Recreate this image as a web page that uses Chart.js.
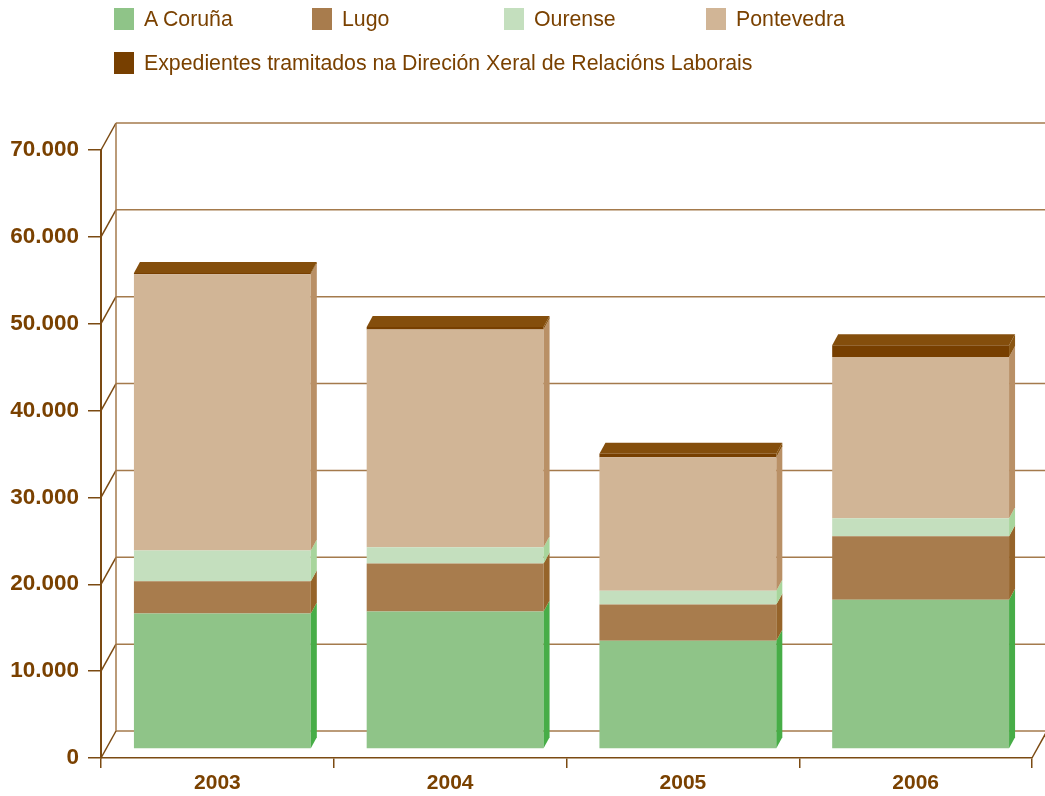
<!DOCTYPE html>
<html>
<head>
<meta charset="utf-8">
<style>
  body { margin: 0; background: #fff; }
  #wrap { position: relative; width: 1045px; height: 796px; }
  #chart { position: absolute; left: 0; top: 0; }
  #legend {
    position: absolute; left: 114px; top: 8px;
    display: grid; grid-template-columns: 198px 192px 202px auto;
    row-gap: 22px;
    font-family: "Liberation Sans", Arial, sans-serif; font-size: 21.3px; color: #7a4100;
  }
  #legend .item { display: flex; align-items: center; height: 22px; white-space: nowrap; }
  #legend .item.wide { grid-column: 1 / -1; }
  #legend .box { width: 20px; height: 22px; margin-right: 10px; }
</style>
</head>
<body>
<div id="wrap">
  <canvas id="chart" width="1045" height="796"></canvas>
  <div id="legend"></div>
</div>

<script src="https://cdn.jsdelivr.net/npm/chart.js"></script>
<script>
// datos
const years = ['2003', '2004', '2005', '2006'];
const aCoruna = [15600, 15840, 12460, 17190];
const lugo = [3700, 5530, 4185, 7300];
const ourense = [3540, 1845, 1580, 2080];
const pontevedra = [31830, 25075, 15375, 18570];
const expedientes = [120, 300, 380, 1350];

const yTicks = { min: 0, max: 70000, step: 10000 };

// colores
const textColor = '#7a4100';
const axisColor = '#7b4a12';
const gridColor = '#a47a4c';

// profundidade 3D
const WALL_DX = 15, WALL_DY = 27;  // parede do fondo
const BAR_DX = 5, BAR_DY = 9;      // cara frontal das barras
const DEPTH_DX = 6, DEPTH_DY = 11; // fondo das barras

function line(ctx, x1, y1, x2, y2, color, w) {
  ctx.beginPath();
  ctx.moveTo(x1, y1);
  ctx.lineTo(x2, y2);
  ctx.strokeStyle = color;
  ctx.lineWidth = w;
  ctx.stroke();
}

function poly(ctx, pts, color) {
  ctx.beginPath();
  ctx.moveTo(pts[0][0], pts[0][1]);
  for (let i = 1; i < pts.length; i++) ctx.lineTo(pts[i][0], pts[i][1]);
  ctx.closePath();
  ctx.fillStyle = color;
  ctx.fill();
}

const box3d = {
  id: 'box3d',
  beforeDatasetsDraw(chart) {
    const { ctx, chartArea: a, scales: { y } } = chart;
    ctx.save();
    y.ticks.forEach(t => {
      const py = y.getPixelForValue(t.value);
      line(ctx, a.left + WALL_DX, py - WALL_DY, a.right + WALL_DX, py - WALL_DY, gridColor, 1.5);
      line(ctx, a.left, py, a.left + WALL_DX, py - WALL_DY, axisColor, 1.5);
    });
    line(ctx, a.left + WALL_DX, a.top - WALL_DY, a.left + WALL_DX, a.bottom - WALL_DY, gridColor, 1.5);
    line(ctx, a.right, a.bottom, a.right + WALL_DX, a.bottom - WALL_DY, axisColor, 1.5);
    ctx.restore();
    // as barras vanse debuxar desprazadas cara ao fondo
    ctx.save();
    ctx.translate(BAR_DX, -BAR_DY);
  },
  afterDatasetsDraw(chart) {
    const ctx = chart.ctx;
    const last = chart.data.datasets.length - 1;
    chart.data.datasets.forEach((ds, i) => {
      const meta = chart.getDatasetMeta(i);
      meta.data.forEach(bar => {
        const { x, y, base, width } = bar.getProps(['x', 'y', 'base', 'width'], true);
        const l = x - width / 2, r = x + width / 2;
        poly(ctx, [[r, y], [r, base], [r + DEPTH_DX, base - DEPTH_DY], [r + DEPTH_DX, y - DEPTH_DY]], ds.sideColor);
        if (i === last) {
          poly(ctx, [[l, y], [r, y], [r + DEPTH_DX, y - DEPTH_DY], [l + DEPTH_DX, y - DEPTH_DY]], ds.topColor);
        }
      });
    });
    ctx.restore();
  }
};

const datasets = [
  { label: 'A Coruña', data: aCoruna, backgroundColor: '#8fc488', sideColor: '#47ad47', topColor: '#a6d49e' },
  { label: 'Lugo', data: lugo, backgroundColor: '#a87c4d', sideColor: '#96642a', topColor: '#b88c5c' },
  { label: 'Ourense', data: ourense, backgroundColor: '#c4dfbe', sideColor: '#a8d59c', topColor: '#d2e8cc' },
  { label: 'Pontevedra', data: pontevedra, backgroundColor: '#d1b596', sideColor: '#b99066', topColor: '#dcc4a8' },
  { label: 'Expedientes tramitados na Direción Xeral de Relacións Laborais', data: expedientes,
    backgroundColor: '#773f00', sideColor: '#8a5512', topColor: '#844e0c' }
];
datasets.forEach(d => { d.borderWidth = 0; });

const chart = new Chart(document.getElementById('chart').getContext('2d'), {
  type: 'bar',
  data: { labels: years, datasets: datasets },
  options: {
    responsive: false,
    devicePixelRatio: 1,
    animation: false,
    layout: { padding: { top: 150, right: 13, left: 0, bottom: 0 } },
    datasets: { bar: { categoryPercentage: 1, barPercentage: 0.76 } },
    plugins: { legend: { display: false }, tooltip: { enabled: false } },
    scales: {
      x: {
        stacked: true,
        grid: { drawOnChartArea: false, tickLength: 10, color: axisColor, lineWidth: 1.5, offset: true },
        border: { color: axisColor, width: 1.5 },
        ticks: { color: textColor, padding: 3, font: { family: 'Liberation Sans, Arial', size: 21, weight: 'bold' } },
        afterFit: s => { s.height = 38; }
      },
      y: {
        stacked: true,
        min: yTicks.min,
        max: yTicks.max,
        grid: { drawOnChartArea: false, tickLength: 13, color: axisColor, lineWidth: 1.5 },
        border: { color: axisColor, width: 2 },
        ticks: {
          stepSize: yTicks.step,
          color: textColor,
          padding: 9,
          font: { family: 'Liberation Sans, Arial', size: 22.5, weight: 'bold' },
          callback: v => v.toLocaleString('de-DE')
        },
        afterFit: s => { s.width = 101; }
      }
    }
  },
  plugins: [box3d]
});

// lenda en HTML
const legend = document.getElementById('legend');
chart.data.datasets.forEach((ds, i) => {
  const item = document.createElement('div');
  item.className = 'item' + (i === chart.data.datasets.length - 1 ? ' wide' : '');
  const box = document.createElement('span');
  box.className = 'box';
  box.style.background = ds.backgroundColor;
  const txt = document.createElement('span');
  txt.textContent = ds.label;
  item.appendChild(box);
  item.appendChild(txt);
  legend.appendChild(item);
});
</script>
</body>
</html>
